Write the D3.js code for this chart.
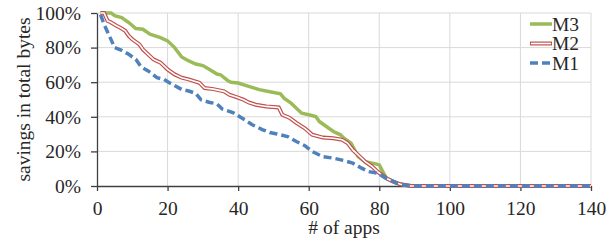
<!DOCTYPE html>
<html>
<head>
<meta charset="utf-8">
<script src="https://cdn.jsdelivr.net/npm/d3@7"></script>
<style>
  body { margin: 0; background: #fff; }
</style>
</head>
<body>
<div id="chart"></div>
<script>
// savings per app (rank on x, % on y)
const xTicks = [0, 20, 40, 60, 80, 100, 120, 140];
const yTicks = [0, 20, 40, 60, 80, 100];

const m3 = [[1,100],[4,100],[5,98.5],[7,97.4],[9,94.5],[11,91],[13,90.6],[15,87.7],[18,85.8],[20,83.9],
  [22,80],[24,74.6],[26,72.3],[28,70.5],[30,69.6],[32,67.2],[34,64.7],[35,64.3],[37,61],[38,60],[40,59.5],
  [43,57.6],[46,55.7],[49,54.5],[52,53.3],[53,50.8],[55,47.9],[56.5,45],[58,42.1],[60,41.2],[62,40.2],
  [63,37.3],[65,34.4],[67,31.5],[69,29.6],[70,27.6],[72,24.8],[73,20.9],[74,17],[76,14.1],[79,12.8],
  [80,12.2],[81,8.3],[82,4.5],[84,2.5],[85,1.5],[88,0.3],[90,0],[140,0]];

const m2 = [[1,100],[2,100],[3,95.5],[4,94.5],[5.5,92.6],[6.5,91.6],[8,89.7],[9,86.8],[10,84.8],[12,81.9],
  [13,79],[14.5,76.1],[16,73.2],[18,71.3],[20,67.4],[22,64.5],[24,62.6],[26,61.6],[29,59.7],[30.5,56.6],
  [33,56],[36,54.7],[37.5,52.8],[39.5,51.4],[41.5,49.9],[43,48.3],[45,47],[48,46],[51.5,45.4],[52.5,41.2],
  [54.5,39.5],[56.5,36.5],[59,33.2],[61,29.6],[64,28],[67,27.6],[69.5,26.7],[71,24.8],[72.5,20.9],
  [74.5,17],[76,14.1],[78,11.2],[79.5,8.3],[82,4.5],[84,2.5],[86,1],[89,0],[140,0]];

const m1 = [[1,99],[2,93.5],[3.5,86.8],[5,80],[7,78.4],[9,76.1],[11,73.2],[12.5,68.8],[14.5,66.5],[17,62.6],
  [19,61.6],[21,59.1],[24,55.8],[26,54.9],[28,53.5],[29.5,49.8],[32,48.3],[34,47.5],[35.5,44.5],[38.5,42.5],
  [41.5,38.7],[44,35.4],[47,32.5],[49,30.9],[51,30.1],[54,28.6],[56.5,25.7],[59,23.2],[61,19.9],[64,17],
  [67,16.1],[70,14.7],[72.5,13.2],[75,10.3],[77,8.3],[79.5,7.4],[81.5,5],[83.5,3.1],[85,1.6],[87,0.6],
  [90,0],[140,0]];

const series = [
  { name: "M3", data: m3, color: "#9bbb59" },
  { name: "M2", data: m2, color: "#c0504d" },
  { name: "M1", data: m1, color: "#4f81bd" }
];

const FONT = "'Liberation Serif', Tinos, 'Times New Roman', 'DejaVu Serif', serif";
const FS = "19.5px";

const margin = { top: 13, right: 22, bottom: 55, left: 97 };
const width = 613 - margin.left - margin.right;
const height = 241 - margin.top - margin.bottom;

const svg = d3.select("#chart").append("svg")
  .attr("width", 613)
  .attr("height", 241)
  .append("g")
  .attr("transform", `translate(${margin.left},${margin.top})`);

const x = d3.scaleLinear().domain([0, 140]).range([0, width]);
const y = d3.scaleLinear().domain([0, 100]).range([height, 0]);

// gridlines
svg.append("g")
  .selectAll("line")
  .data(yTicks.filter(d => d > 0))
  .enter().append("line")
  .attr("x1", 0).attr("x2", width)
  .attr("y1", d => y(d)).attr("y2", d => y(d))
  .attr("stroke", "#d9d9d9");

svg.append("g")
  .selectAll("line")
  .data(xTicks.filter(d => d > 0))
  .enter().append("line")
  .attr("x1", d => x(d)).attr("x2", d => x(d))
  .attr("y1", 0).attr("y2", height)
  .attr("stroke", "#d9d9d9");

// axes
let xAxis = svg.append("g")
  .attr("transform", `translate(0,${height})`)
  .call(d3.axisBottom(x).tickValues(xTicks).tickSize(5).tickPadding(10).tickSizeOuter(0));
let yAxis = svg.append("g")
  .call(d3.axisLeft(y).tickValues(yTicks).tickSize(6).tickPadding(10).tickSizeOuter(0)
    .tickFormat(d => d + "%"));

[xAxis, yAxis].forEach(a => {
  a.attr("font-family", FONT).attr("font-size", 19.5);
  a.select(".domain").attr("stroke", "#404040").attr("stroke-width", 1.3);
  a.selectAll(".tick line").attr("stroke", "#404040").attr("stroke-width", 1.3);
  a.selectAll("text").style("font-family", FONT).style("font-size", FS).attr("fill", "#262626");
});

// lines
let line = d3.line().x(d => x(d[0])).y(d => y(d[1]));

svg.append("path").datum(m3)
  .attr("d", line).attr("fill", "none")
  .attr("stroke", "#9bbb59").attr("stroke-width", 3.5);

svg.append("path").datum(m2)
  .attr("d", line).attr("fill", "none")
  .attr("stroke", "#c0504d").attr("stroke-width", 4);
svg.append("path").datum(m2)
  .attr("d", line).attr("fill", "none")
  .attr("stroke", "#fff").attr("stroke-width", 1.6);

svg.append("path").datum(m1)
  .attr("d", line).attr("fill", "none")
  .attr("stroke", "#4f81bd").attr("stroke-width", 3.5)
  .attr("stroke-dasharray", "8,4");

// legend
let legend = svg.append("g")
  .attr("transform", `translate(${width - 61}, 11)`);

series.forEach((s, i) => {
  let g = legend.append("g").attr("transform", `translate(0, ${i * 19.5})`);
  if (s.name === "M2") {
    g.append("line").attr("x1", 0).attr("x2", 22).attr("stroke", s.color).attr("stroke-width", 4);
    g.append("line").attr("x1", 1).attr("x2", 21).attr("stroke", "#fff").attr("stroke-width", 1.6);
  } else {
    g.append("line").attr("x1", 0).attr("x2", 22)
      .attr("stroke", s.color).attr("stroke-width", 3.5)
      .attr("stroke-dasharray", s.name === "M1" ? "8,4" : null);
  }
  g.append("text")
    .attr("x", 22).attr("y", 6.5)
    .style("font-family", FONT)
    .style("font-size", FS)
    .attr("fill", "#262626")
    .text(s.name);
});

// axis titles
svg.append("text")
  .attr("x", width / 2).attr("y", height + 48)
  .attr("text-anchor", "middle")
  .style("font-family", FONT)
  .style("font-size", FS)
  .attr("fill", "#262626")
  .text("# of apps");

svg.append("text")
  .attr("transform", `translate(${-67}, ${height / 2}) rotate(-90)`)
  .attr("text-anchor", "middle")
  .style("font-family", FONT)
  .style("font-size", FS)
  .attr("fill", "#262626")
  .text("savings in total bytes");
</script>
</body>
</html>
